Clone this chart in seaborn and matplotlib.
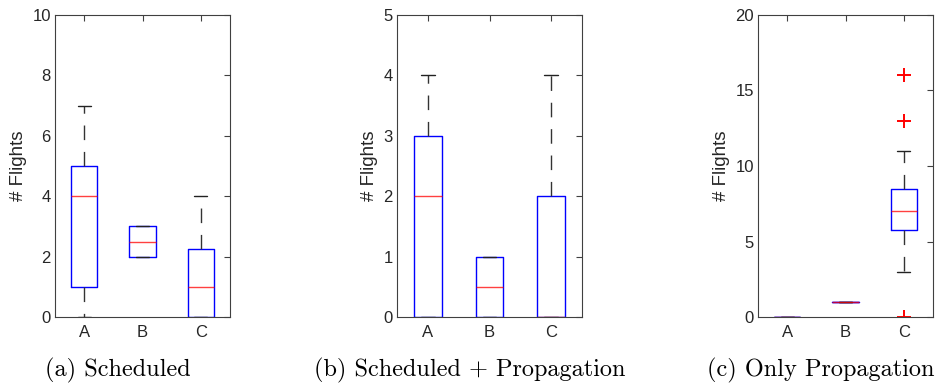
import matplotlib
matplotlib.use("Agg")
import matplotlib.pyplot as plt
import seaborn as sns
import pandas as pd

# Flights per scenario for the three operating modes
categories = ["A", "B", "C"]

scheduled_a = [0, 1, 1, 4, 4, 5, 5, 7]
scheduled_b = [2, 2, 3, 3]
scheduled_c = [0, 0, 0, 1, 1, 2, 3, 4]

sched_prop_a = [0, 0, 0, 2, 3, 3, 4]
sched_prop_b = [0, 0, 1, 1]
sched_prop_c = [0, 0, 0, 0, 2, 2, 4]

prop_a = [0, 0, 0]
prop_b = [1, 1, 1]
prop_c = [0, 3, 4, 5, 6, 6, 7, 7, 7, 8, 8, 8, 10, 11, 13, 16]

captions = ["(a) Scheduled", "(b) Scheduled + Propagation", "(c) Only Propagation"]
y_limits = [(0, 10), (0, 5), (0, 20)]
y_ticks = [[0, 2, 4, 6, 8, 10], [0, 1, 2, 3, 4, 5], [0, 5, 10, 15, 20]]

panels = [
    [scheduled_a, scheduled_b, scheduled_c],
    [sched_prop_a, sched_prop_b, sched_prop_c],
    [prop_a, prop_b, prop_c],
]


def to_frame(groups):
    rows = []
    for cat, vals in zip(categories, groups):
        rows += [{"group": cat, "flights": v} for v in vals]
    return pd.DataFrame(rows)


sns.set_style("white")
plt.rcParams["font.family"] = ["Liberation Sans", "DejaVu Sans"]

W, H = 943, 390
fig = plt.figure(figsize=(W / 100, H / 100), dpi=100)

# axes boxes in pixels: (left, right, top, bottom)
boxes = [(55, 230, 15, 317), (397, 582, 15, 317), (758, 933, 15, 317)]
caption_x = [118, 470, 821]
ink = "#262626"
frame = "#404040"

for groups, (l, r, t, b), cap, cx, ylim, yt in zip(
        panels, boxes, captions, caption_x, y_limits, y_ticks):
    ax = fig.add_axes([l / W, (H - b) / H, (r - l) / W, (b - t) / H])
    sns.boxplot(
        data=to_frame(groups), x="group", y="flights", order=categories,
        ax=ax, width=0.45, fill=False, whis=1.5,
        boxprops=dict(color="blue", linewidth=1.0),
        whiskerprops=dict(color="#333333", linestyle=(0, (10.5, 8.5)), linewidth=1.0),
        capprops=dict(color="#222222", linewidth=1.0),
        medianprops=dict(color="red", linewidth=1.0, alpha=0.75),
        flierprops=dict(marker="+", markeredgecolor="red", markerfacecolor="red",
                        markersize=10, markeredgewidth=1.4, linestyle="none"),
    )
    ax.set_xlim(-0.5, 2.5)
    ax.set_ylim(*ylim)
    ax.set_yticks(yt)
    ax.set_xlabel("")
    ax.set_ylabel("# Flights", fontsize=13.5, color=ink, labelpad=4)
    ax.tick_params(direction="in", length=4, width=0.8, colors=frame,
                   labelcolor=ink, labelsize=12, top=True, right=True, pad=3)
    ax.tick_params(axis="x", pad=6)
    for side in ax.spines.values():
        side.set_visible(True)
        side.set_color(frame)
        side.set_linewidth(0.8)
    fig.text(cx / W, 1 - 370 / H, cap, ha="center", va="center",
             fontsize=17.5, family="cmr10", color="black")

fig.savefig("out.png", dpi=100)
